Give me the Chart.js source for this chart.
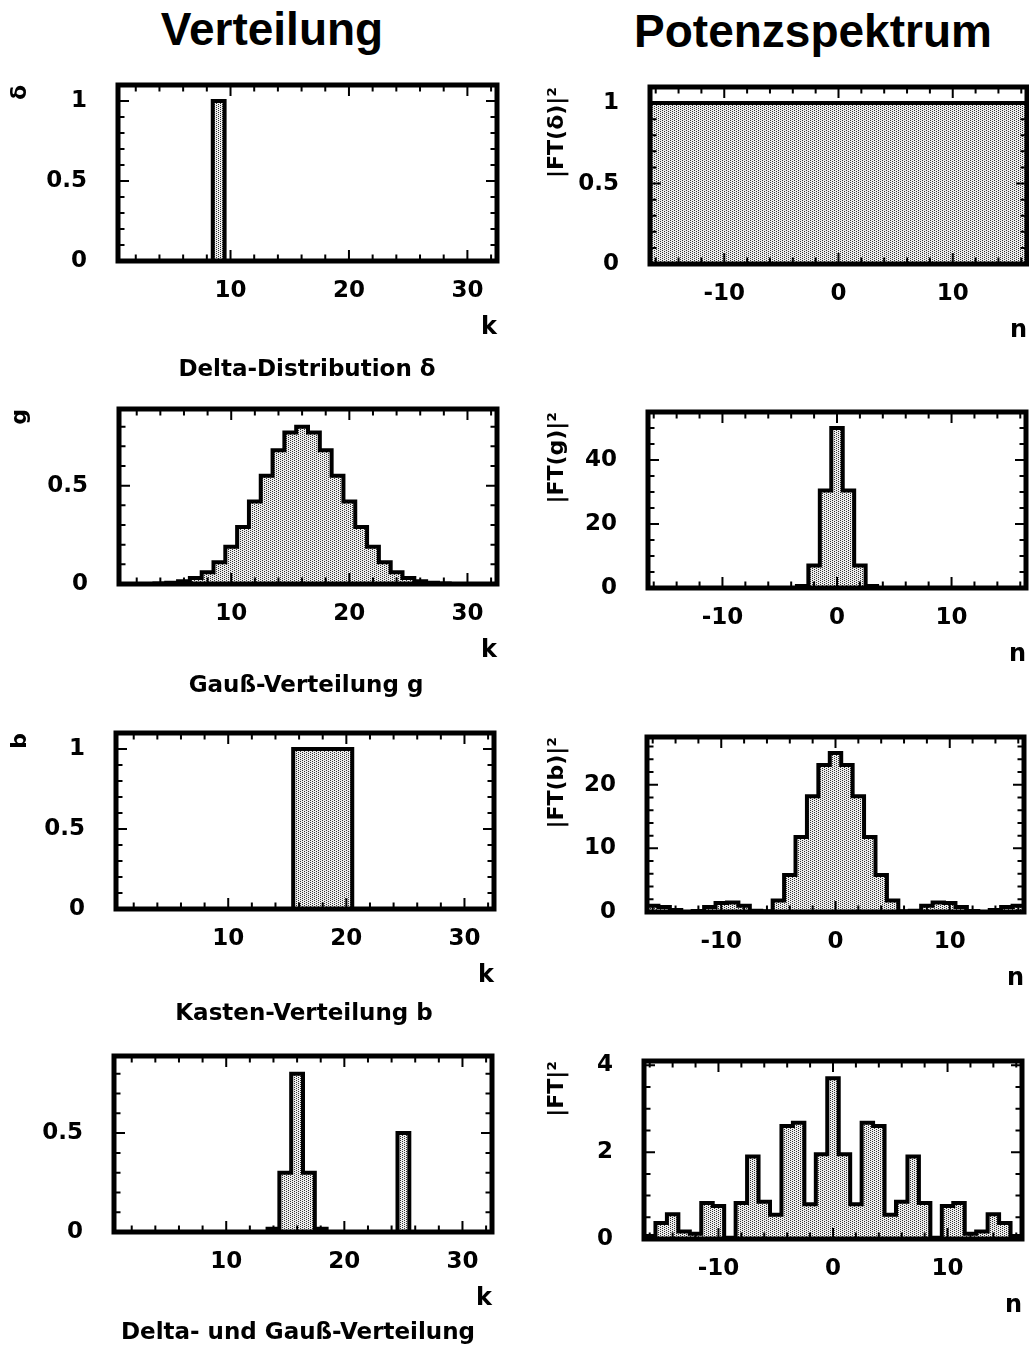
<!DOCTYPE html>
<html>
<head>
<meta charset="utf-8">
<script src="https://cdn.jsdelivr.net/npm/chart.js@4.4.1/dist/chart.umd.min.js"></script>
<style>
  body { margin: 0; background: #fff; }
  #page { position: relative; width: 1029px; height: 1358px; overflow: hidden; background: #fff; }
  #page canvas { position: absolute; }
  .txt { position: absolute; transform: translate(-50%, -50%); white-space: nowrap; color: #000; line-height: 1; z-index: 2; }
  .head { font: bold 46px "Liberation Sans", Arial, sans-serif; }
  .cap { font: bold 23px "DejaVu Sans", sans-serif; }
</style>
</head>
<body>
<div id="page">
  <div class="txt head" style="left:272px; top:29px">Verteilung</div>
  <div class="txt head" style="left:813px; top:31px">Potenzspektrum</div>
  <div class="txt cap" style="left:307px; top:368px">Delta-Distribution δ</div>
  <div class="txt cap" style="left:306px; top:684px">Gauß-Verteilung g</div>
  <div class="txt cap" style="left:304px; top:1012px">Kasten-Verteilung b</div>
  <div class="txt cap" style="left:298px; top:1331px">Delta- und Gauß-Verteilung</div>
</div>
<script>
// bin centres: k = 1..32 for the distributions, n = -16..16 for the spectra
const kValues = Array.from({ length: 32 }, (_, i) => i + 1);
const nValues = Array.from({ length: 33 }, (_, i) => i - 16);

// distributions over k
const deltaDist = [0, 0, 0, 0, 0, 0, 0, 0, 1, 0, 0, 0, 0, 0, 0, 0,
                   0, 0, 0, 0, 0, 0, 0, 0, 0, 0, 0, 0, 0, 0, 0, 0];
const gaussDist = [0, 0, 0.0005, 0.002, 0.006, 0.014, 0.03, 0.06, 0.11, 0.19, 0.29, 0.42, 0.55, 0.68, 0.77, 0.80,
                   0.77, 0.68, 0.55, 0.42, 0.29, 0.19, 0.11, 0.06, 0.03, 0.014, 0.006, 0.002, 0.0005, 0, 0, 0];
const boxDist = [0, 0, 0, 0, 0, 0, 0, 0, 0, 0, 0, 0, 0, 0, 0, 1,
                 1, 1, 1, 1, 0, 0, 0, 0, 0, 0, 0, 0, 0, 0, 0, 0];
const deltaGaussDist = [0, 0, 0, 0, 0, 0, 0, 0, 0, 0, 0, 0, 0, 0.016, 0.3, 0.8,
                        0.3, 0.016, 0, 0, 0, 0, 0, 0, 0.5, 0, 0, 0, 0, 0, 0, 0];

// power spectra over n
const ftDelta = [1, 1, 1, 1, 1, 1, 1, 1, 1, 1, 1, 1, 1, 1, 1, 1, 1,
                 1, 1, 1, 1, 1, 1, 1, 1, 1, 1, 1, 1, 1, 1, 1, 1];
const ftGauss = [0, 0, 0, 0, 0, 0, 0, 0, 0, 0, 0, 0, 0.03, 0.6, 7, 30.5, 50,
                 30.5, 7, 0.6, 0.03, 0, 0, 0, 0, 0, 0, 0, 0, 0, 0, 0, 0];
const ftBox = [1.0, 0.79, 0.32, 0.01, 0.17, 0.77, 1.4, 1.5, 1.0, 0.21, 0.12, 1.8, 5.8, 11.8, 18.2, 23.1, 25,
               23.1, 18.2, 11.8, 5.8, 1.8, 0.12, 0.21, 1.0, 1.5, 1.4, 0.77, 0.17, 0.01, 0.32, 0.79, 1.0];
const ftMix = [0.07, 0.37, 0.57, 0.17, 0.12, 0.83, 0.76, 0.03, 0.83, 1.9, 0.86, 0.56, 2.6, 2.68, 0.8, 1.95, 3.7,
               1.95, 0.8, 2.68, 2.6, 0.56, 0.86, 1.9, 0.83, 0.03, 0.76, 0.83, 0.12, 0.17, 0.57, 0.37, 0.07];

// tick labels
const kTickLabels = [10, 20, 30];
const nTickLabels = [-10, 0, 10];
const unitTicks = [0, 0.5, 1];
const halfTicks = [0, 0.5];
const ftGaussTicks = [0, 20, 40];
const ftBoxTicks = [0, 10, 20];
const ftMixTicks = [0, 2, 4];

const FONT = '"DejaVu Sans", sans-serif';

// grey stipple used for the histogram fill
function stipple() {
  const c = document.createElement('canvas');
  c.width = 4; c.height = 2;
  const g = c.getContext('2d');
  g.fillStyle = '#ececec';
  g.fillRect(0, 0, 4, 2);
  g.fillStyle = '#333';
  g.fillRect(0, 0, 1, 1);
  g.fillRect(2, 1, 1, 1);
  return g.createPattern(c, 'repeat');
}
const fillPattern = stipple();

// left bin edges, plus the right edge of the last bin
function histPoints(centers, values) {
  const pts = centers.map((c, i) => ({ x: c - 0.5, y: values[i] }));
  pts.push({ x: centers[centers.length - 1] + 0.5, y: values[values.length - 1] });
  return pts;
}

// thick box round the plot area, inward ticks on all four sides
const frameTicks = {
  id: 'frameTicks',
  afterDatasetsDraw(chart, args, opts) {
    const { ctx, chartArea: a, scales: { x, y } } = chart;
    ctx.save();
    ctx.strokeStyle = '#000';
    ctx.lineWidth = 2;
    ctx.beginPath();
    const each = (scale, minor, major, fn) => {
      const start = Math.ceil(scale.min / minor - 1e-9);
      for (let i = start; i * minor <= scale.max + 1e-9; i++) {
        const v = i * minor;
        if (Math.abs(v - scale.min) < 1e-9 || Math.abs(v - scale.max) < 1e-9) continue;
        const isMajor = Math.abs(v / major - Math.round(v / major)) < 1e-6;
        fn(scale.getPixelForValue(v), isMajor ? 11 : 6.5);
      }
    };
    each(x, opts.xMinor, opts.xMajor, (px, len) => {
      ctx.moveTo(px, a.bottom); ctx.lineTo(px, a.bottom - len);
      ctx.moveTo(px, a.top); ctx.lineTo(px, a.top + len);
    });
    each(y, opts.yMinor, opts.yMajor, (py, len) => {
      ctx.moveTo(a.left, py); ctx.lineTo(a.left + len, py);
      ctx.moveTo(a.right, py); ctx.lineTo(a.right - len, py);
    });
    ctx.stroke();
    ctx.lineWidth = 5;
    ctx.strokeRect(a.left, a.top, a.right - a.left, a.bottom - a.top);
    ctx.restore();
  }
};

const panels = [
  { col: 0, frame: [118, 85, 497, 261], xs: kValues, ys: deltaDist, yMax: 1.1, yTicks: unitTicks, yMinor: 0.1, yMajor: 0.5, yTitle: 'δ' },
  { col: 1, frame: [650, 87, 1027, 264], xs: nValues, ys: ftDelta, yMax: 1.1, yTicks: unitTicks, yMinor: 0.1, yMajor: 0.5, yTitle: '|FT(δ)|²' },
  { col: 0, frame: [119, 409, 497, 584], xs: kValues, ys: gaussDist, yMax: 0.89, yTicks: halfTicks, yMinor: 0.1, yMajor: 0.5, yTitle: 'g' },
  { col: 1, frame: [648, 412, 1026, 588], xs: nValues, ys: ftGauss, yMax: 55, yTicks: ftGaussTicks, yMinor: 5, yMajor: 20, yTitle: '|FT(g)|²' },
  { col: 0, frame: [116, 733, 494, 909], xs: kValues, ys: boxDist, yMax: 1.1, yTicks: unitTicks, yMinor: 0.1, yMajor: 0.5, yTitle: 'b' },
  { col: 1, frame: [647, 737, 1024, 912], xs: nValues, ys: ftBox, yMax: 27.5, yTicks: ftBoxTicks, yMinor: 2, yMajor: 10, yTitle: '|FT(b)|²' },
  { col: 0, frame: [114, 1056, 492, 1232], xs: kValues, ys: deltaGaussDist, yMax: 0.89, yTicks: halfTicks, yMinor: 0.1, yMajor: 0.5, yTitle: '' },
  { col: 1, frame: [644, 1061, 1022, 1239], xs: nValues, ys: ftMix, yMax: 4.1, yTicks: ftMixTicks, yMinor: 0.5, yMajor: 2, yTitle: '|FT|²' }
];

const page = document.getElementById('page');

panels.forEach(p => {
  const [L, T, R, B] = p.frame;
  const left = p.col === 0 ? 0 : 520;
  const width = p.col === 0 ? 520 : 509;
  const top = T - 20;
  const height = B - top + 100;
  const isK = p.col === 0;

  const canvas = document.createElement('canvas');
  canvas.width = width;
  canvas.height = height;
  canvas.style.left = left + 'px';
  canvas.style.top = top + 'px';
  page.appendChild(canvas);

  new Chart(canvas, {
    type: 'line',
    data: {
      datasets: [{
        data: histPoints(p.xs, p.ys),
        stepped: true,
        borderColor: '#000',
        borderWidth: 4,
        borderJoinStyle: 'miter',
        backgroundColor: fillPattern,
        fill: 'origin',
        pointRadius: 0
      }]
    },
    options: {
      responsive: false,
      animation: false,
      devicePixelRatio: 1,
      events: [],
      layout: { padding: { top: 20, right: width - (R - left), left: 0, bottom: 0 } },
      scales: {
        x: {
          type: 'linear',
          min: isK ? 0.5 : -16.5,
          max: isK ? 32.5 : 16.5,
          grid: { display: false, drawTicks: false },
          border: { display: false },
          afterBuildTicks: s => { s.ticks = (isK ? kTickLabels : nTickLabels).map(v => ({ value: v })); },
          afterFit: s => { s.height = 100; s.paddingLeft = 0; s.paddingRight = 0; },
          ticks: {
            padding: 16, color: '#000', autoSkip: false, maxRotation: 0,
            font: { family: FONT, size: 23, weight: 'bold' },
            callback: v => String(v)
          },
          title: {
            display: true, text: isK ? 'k' : 'n', align: 'end', color: '#000',
            font: { family: FONT, size: 24, weight: 'bold' },
            padding: { top: 0, bottom: 19 }
          }
        },
        y: {
          min: 0,
          max: p.yMax,
          grid: { display: false, drawTicks: false },
          border: { display: false },
          afterBuildTicks: s => { s.ticks = p.yTicks.map(v => ({ value: v })); },
          afterFit: s => { s.width = L - left; s.paddingTop = 0; s.paddingBottom = 0; },
          ticks: {
            padding: 31, color: '#000',
            font: { family: FONT, size: 23, weight: 'bold' },
            callback: v => String(v)
          },
          title: {
            display: p.yTitle !== '', text: p.yTitle, align: 'end', color: '#000',
            font: { family: FONT, size: 22, weight: 'bold' },
            padding: { top: isK ? 7 : 24, bottom: 0 }
          }
        }
      },
      plugins: {
        legend: { display: false },
        tooltip: { enabled: false },
        frameTicks: { xMinor: 2, xMajor: 10, yMinor: p.yMinor, yMajor: p.yMajor }
      }
    },
    plugins: [frameTicks]
  });
});
</script>
</body>
</html>
